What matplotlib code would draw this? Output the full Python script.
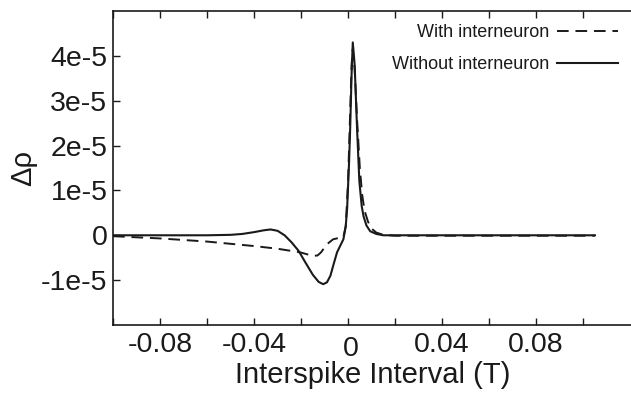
import matplotlib
matplotlib.use("Agg")
import matplotlib.pyplot as plt
import matplotlib.transforms as mtransforms

plt.rcParams['font.family'] = ['Liberation Sans', 'DejaVu Sans']

# Interspike interval (T)
x_with = [-0.1, -0.08, -0.06, -0.04, -0.03, -0.0204, -0.017, -0.015, -0.013, -0.0115,
          -0.009, -0.0064, -0.004, -0.002, -0.001, 0.0, 0.0008, 0.0015, 0.002, 0.0028,
          0.0038, 0.005, 0.006, 0.007, 0.0085, 0.01, 0.012, 0.015, 0.02, 0.06, 0.105]
# Delta rho (units of 1e-5)
y_with = [-0.02, -0.07, -0.14, -0.24, -0.30, -0.38, -0.43, -0.46, -0.45, -0.38,
          -0.20, -0.09, -0.06, -0.04, 0.2, 1.2, 2.6, 3.8, 4.15, 3.7,
          2.6, 1.5, 0.9, 0.55, 0.3, 0.15, 0.06, 0.01, -0.01, -0.01, -0.01]

x_without = [-0.1, -0.06, -0.05, -0.045, -0.04, -0.036, -0.033, -0.03, -0.027, -0.024,
             -0.021, -0.018, -0.015, -0.0125, -0.0106, -0.009, -0.0075, -0.0064, -0.0047, -0.0034,
             -0.002, -0.001, -0.0004, 0.0004, 0.0009, 0.0015, 0.002, 0.0028, 0.0038, 0.0048,
             0.0058, 0.0066, 0.0078, 0.0094, 0.012, 0.015, 0.03, 0.06, 0.105]
y_without = [0.0, 0.0, 0.01, 0.03, 0.07, 0.11, 0.13, 0.10, 0.0, -0.16,
             -0.35, -0.62, -0.88, -1.04, -1.09, -1.05, -0.90, -0.69, -0.38, -0.24,
             -0.09, 0.2, 0.6, 1.6, 2.4, 3.6, 4.3, 3.8, 2.4, 1.2,
             0.65, 0.42, 0.22, 0.09, 0.03, 0.0, 0.0, 0.0, 0.0]

xticks = [-0.1, -0.08, -0.06, -0.04, -0.02, 0.0, 0.02, 0.04, 0.06, 0.08, 0.1]
xticklabels = ['', '-0.08', '', '-0.04', '', '0', '', '0.04', '', '0.08', '']
yticks = [-1e-5, 0, 1e-5, 2e-5, 3e-5, 4e-5]
yticklabels = ['-1e-5', '0', '1e-5', '2e-5', '3e-5', '4e-5']

W, H = 631, 394
fig = plt.figure(figsize=(W / 100, H / 100), dpi=100)
left, right, bottom, top = 113, 633, 325, 11
ax = fig.add_axes([left / W, (H - bottom) / H, (right - left) / W, (bottom - top) / H])

ax.plot(x_with, [v * 1e-5 for v in y_with], color='#1a1a1a', lw=1.4,
        dashes=(6, 3.5), label='With interneuron')
ax.plot(x_without, [v * 1e-5 for v in y_without], color='#1a1a1a', lw=1.5,
        label='Without interneuron')

ax.set_xlim(-0.1, 0.1212)
ax.set_ylim(-2e-5, 5e-5)
ax.set_xticks(xticks)
ax.set_xticklabels(xticklabels)
ax.set_yticks(yticks)
ax.set_yticklabels(yticklabels)
ax.tick_params(axis='both', direction='in', length=5, width=1, labelsize=20.5,
               colors='#1a1a1a', pad=4)
ax.tick_params(axis='x', top=True, pad=5)
ax.tick_params(axis='y', right=False)
ax.spines['right'].set_visible(False)
for s in ['left', 'bottom', 'top']:
    ax.spines[s].set_linewidth(1.2)
    ax.spines[s].set_color('#1a1a1a')

# the "0" x label sits a little lower in the reference
for lab in ax.get_xticklabels():
    if lab.get_text() == '0':
        lab.set_transform(lab.get_transform() +
                          mtransforms.ScaledTranslation(3 / 100, -4 / 100, fig.dpi_scale_trans))

ax.set_xlabel('Interspike Interval (T)', fontsize=21, color='#1a1a1a', labelpad=-1)
ax.set_ylabel('Δρ', fontsize=21, color='#1a1a1a', labelpad=3)

leg = ax.legend(loc='upper right', bbox_to_anchor=((618 - left) / (right - left), (bottom - 24) / (bottom - top)),
                bbox_transform=ax.transAxes, frameon=False, markerfirst=False,
                fontsize=13, handlelength=3.4, handletextpad=0.4, labelspacing=0.85,
                borderpad=0, borderaxespad=0)
for t in leg.get_texts():
    t.set_color('#1a1a1a')

fig.savefig('out.png', dpi=100)
